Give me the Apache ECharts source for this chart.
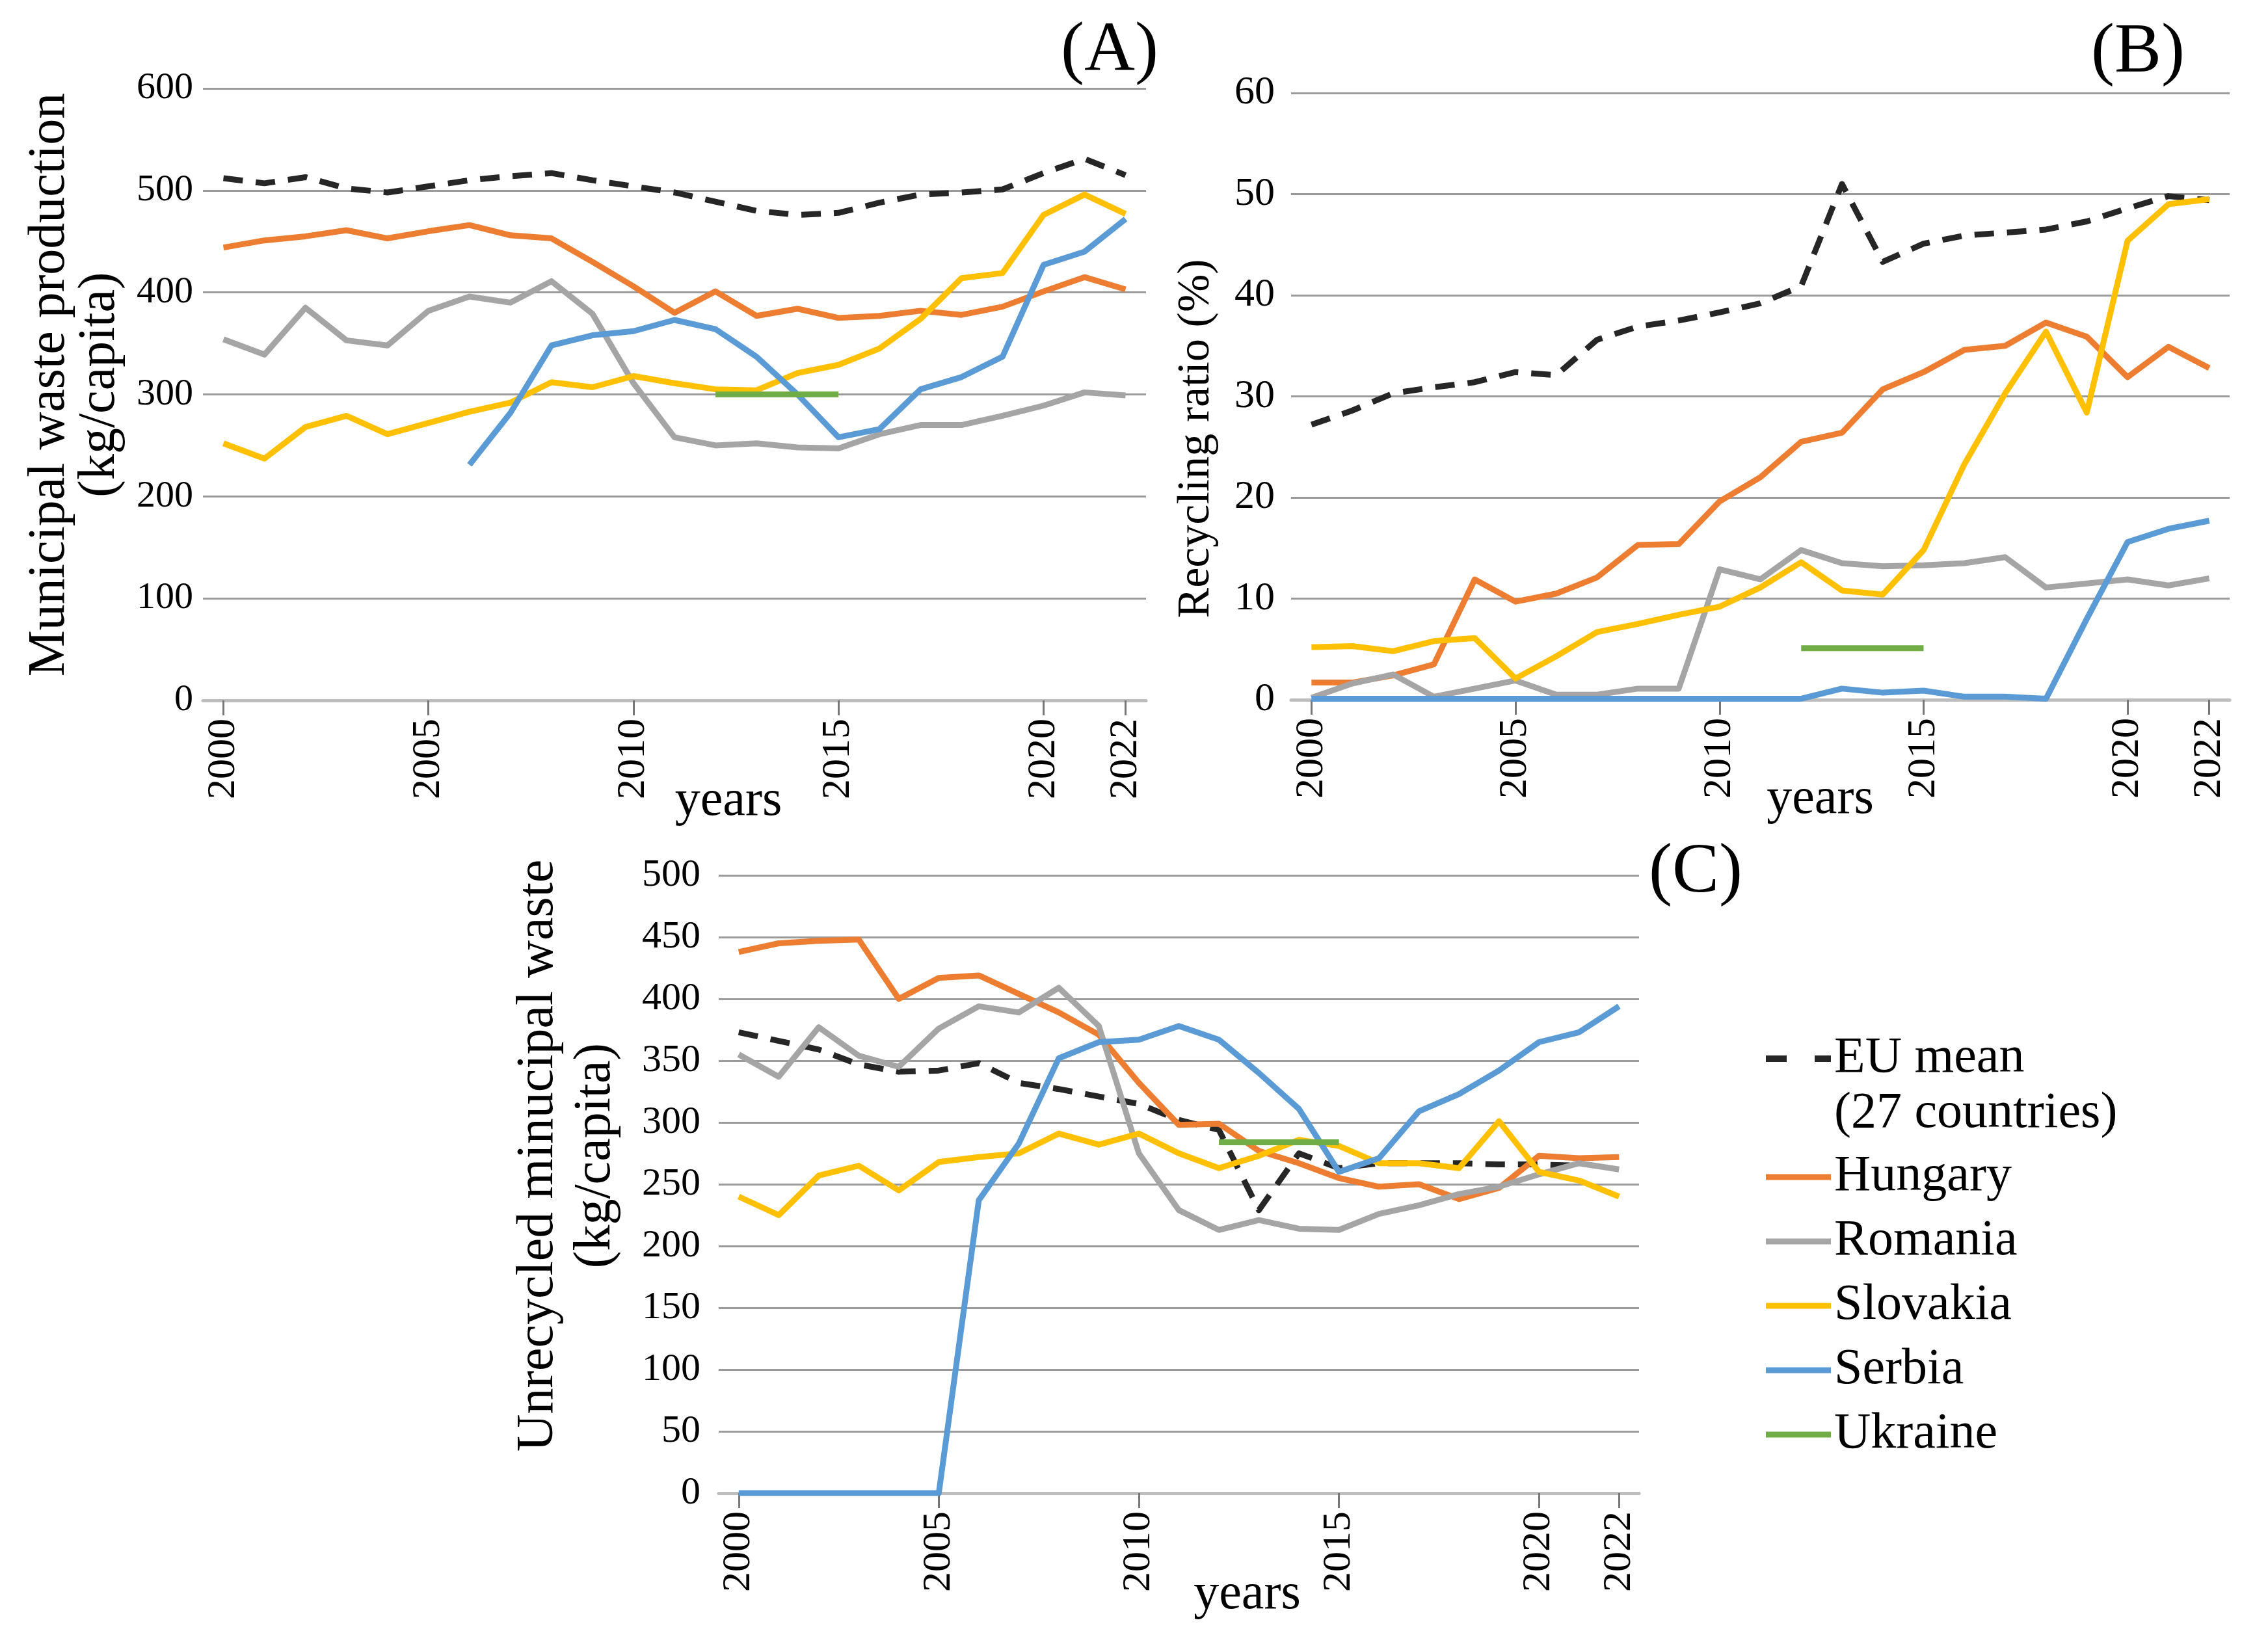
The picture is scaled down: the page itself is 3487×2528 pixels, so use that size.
<!DOCTYPE html>
<html>
<head>
<meta charset="utf-8">
<script src="https://cdn.jsdelivr.net/npm/echarts@6/dist/echarts.min.js"></script>
<style>
html,body{margin:0;padding:0;background:#fff;}
#chart{width:3487px;height:2528px;}
</style>
</head>
<body>
<div id="chart"></div>
<script>
// ---------- data ----------
const years = ['2000','2001','2002','2003','2004','2005','2006','2007','2008','2009','2010','2011',
               '2012','2013','2014','2015','2016','2017','2018','2019','2020','2021','2022'];
const seriesNames = ['EU mean', 'Hungary', 'Romania', 'Slovakia', 'Serbia', 'Ukraine'];
const euNote = '(27 countries)';
const panelLabels = ['(A)', '(B)', '(C)'];
const yTicksA = [0, 600, 100];
const yTicksB = [0, 60, 10];
const yTicksC = [0, 500, 50];

// (A) Municipal waste production (kg/capita)
const prodEU = [512, 507, 513, 502, 498, 504, 510, 514, 517, 510, 504, 498, 489, 480, 476, 478, 488, 496, 498, 501, 517, 531, 515];
const prodHU = [444, 451, 455, 461, 453, 460, 466, 456, 453, 430, 406, 380, 401, 377, 384, 375, 377, 382, 378, 386, 401, 415, 403];
const prodRO = [354, 339, 385, 353, 348, 382, 396, 390, 411, 379, 311, 258, 250, 252, 248, 247, 261, 270, 270, 279, 289, 302, 299];
const prodSK = [252, 237, 268, 279, 261, 272, 283, 292, 312, 307, 318, 311, 305, 304, 321, 329, 345, 374, 414, 419, 476, 496, 477];
const prodRS = [null, null, null, null, null, null, 231, 282, 348, 358, 362, 373, 364, 337, 300, 258, 266, 305, 317, 337, 427, 440, 472];
const prodUA = [null, null, null, null, null, null, null, null, null, null, null, null, 300, 300, 300, 300, null, null, null, null, null, null, null];

// (B) Recycling ratio (%)
const recEU = [27.2, 28.6, 30.3, 30.9, 31.4, 32.4, 32.1, 35.6, 36.9, 37.5, 38.3, 39.2, 40.9, 51.0, 43.3, 45.1, 45.9, 46.2, 46.5, 47.3, 48.6, 49.8, 49.4];
const recHU = [1.7, 1.7, 2.4, 3.5, 11.9, 9.7, 10.5, 12.1, 15.3, 15.4, 19.6, 22.0, 25.5, 26.4, 30.7, 32.4, 34.6, 35.0, 37.3, 35.9, 31.9, 34.9, 32.8];
const recRO = [0.2, 1.6, 2.5, 0.3, 1.1, 1.9, 0.5, 0.5, 1.1, 1.1, 12.9, 11.9, 14.8, 13.5, 13.2, 13.3, 13.5, 14.1, 11.1, 11.5, 11.9, 11.3, 12.0];
const recSK = [5.2, 5.3, 4.8, 5.8, 6.1, 2.1, 4.3, 6.7, 7.5, 8.4, 9.2, 11.1, 13.6, 10.8, 10.4, 14.8, 23.3, 30.3, 36.4, 28.4, 45.4, 49.0, 49.5];
const recRS = [0.1, 0.1, 0.1, 0.1, 0.1, 0.1, 0.1, 0.1, 0.1, 0.1, 0.1, 0.1, 0.1, 1.1, 0.7, 0.9, 0.3, 0.3, 0.1, 8.0, 15.6, 16.9, 17.7];
const recUA = [null, null, null, null, null, null, null, null, null, null, null, null, 5.1, 5.1, 5.1, 5.1, null, null, null, null, null, null, null];

// (C) Unrecycled municipal waste (kg/capita)
const unrecEU = [373, 366, 359, 347, 341, 342, 348, 332, 327, 321, 315, 302, 294, 229, 275, 263, 267, 267, 267, 266, 266, 265, null];
const unrecHU = [438, 445, 447, 448, 400, 417, 419, 404, 389, 371, 332, 298, 299, 277, 267, 255, 248, 250, 238, 247, 273, 271, 272];
const unrecRO = [355, 337, 377, 354, 345, 376, 394, 389, 409, 378, 275, 229, 213, 221, 214, 213, 226, 233, 242, 248, 258, 267, 262];
const unrecSK = [240, 225, 257, 265, 245, 268, 272, 275, 291, 282, 291, 275, 263, 273, 286, 281, 267, 267, 263, 301, 260, 253, 240];
const unrecRS = [0, 0, 0, 0, 0, 0, 237, 283, 352, 365, 367, 378, 367, 340, 311, 260, 271, 309, 323, 342, 365, 373, 394];
const unrecUA = [null, null, null, null, null, null, null, null, null, null, null, null, 284, 284, 284, 284, null, null, null, null, null, null, null];

// ---------- styling ----------
const FONT = '"Liberation Serif", "Times New Roman", serif';
const COLORS = {
  'EU mean': '#262626', 'Hungary': '#ED7D31', 'Romania': '#A5A5A5',
  'Slovakia': '#FFC000', 'Serbia': '#5B9BD5', 'Ukraine': '#70AD47'
};
const showYear = (i) => i % 5 === 0 || i === years.length - 1;

function xAxis(gridIndex, nameGap, shift) {
  return {
    type: 'category', gridIndex: gridIndex, data: years, boundaryGap: true,
    name: 'years', nameLocation: 'middle', nameGap: nameGap, nameMoveOverlap: false,
    nameTextStyle: { fontFamily: FONT, fontSize: 78, lineHeight: 78, color: '#000', padding: [0, 0, 0, shift * 2] },
    axisLine: { show: true, lineStyle: { color: '#bdbdbd', width: 5 } },
    axisTick: { show: true, alignWithLabel: true, interval: showYear, length: 23, lineStyle: { color: '#777', width: 3 } },
    axisLabel: { interval: showYear, rotate: 90, margin: 28, fontFamily: FONT, fontSize: 62, color: '#000' },
    splitLine: { show: false }
  };
}
function yAxis(gridIndex, ticks, name, nameGap, fontSize, lineHeight, pad, labelSize, labelMargin, labelPad) {
  return {
    type: 'value', gridIndex: gridIndex, min: ticks[0], max: ticks[1], interval: ticks[2],
    name: name, nameLocation: 'middle', nameRotate: 90, nameGap: nameGap, nameMoveOverlap: false,
    nameTextStyle: { fontFamily: FONT, fontSize: fontSize, lineHeight: lineHeight, color: '#000', padding: pad },
    axisLine: { show: false }, axisTick: { show: false },
    axisLabel: { margin: labelMargin, fontFamily: FONT, fontSize: labelSize, color: '#000', padding: labelPad },
    splitLine: { show: true, lineStyle: { color: '#9a9a9a', width: 3 } }
  };
}
function line(name, data, idx) {
  const dashed = name === 'EU mean';
  return {
    type: 'line', name: name, data: data, xAxisIndex: idx, yAxisIndex: idx,
    symbol: 'none', showSymbol: false, connectNulls: false, silent: true, animation: false,
    lineStyle: { color: COLORS[name], width: 9, type: dashed ? [30, 20] : 'solid', cap: 'butt', join: 'round' },
    itemStyle: { color: COLORS[name] }
  };
}

const panels = [
  [prodEU, prodHU, prodRO, prodSK, prodRS, prodUA],
  [recEU, recHU, recRO, recSK, recRS, recUA],
  [unrecEU, unrecHU, unrecRO, unrecSK, unrecRS, unrecUA]
];
const series = [];
panels.forEach((arrs, p) => arrs.forEach((d, k) => series.push(line(seriesNames[k], d, p))));

const legendText = { fontFamily: FONT, fontSize: 78, lineHeight: 88, color: '#000' };
const labelStyle = (t) => ({ text: t, font: '108px ' + FONT, fill: '#000', align: 'center', verticalAlign: 'middle', textAlign: 'center', textVerticalAlign: 'middle' });

const option = {
  backgroundColor: '#ffffff',
  animation: false,
  grid: [
    { left: 312, top: 136, width: 1450, height: 941 },
    { left: 1985, top: 143, width: 1443, height: 933 },
    { left: 1105, top: 1346, width: 1415, height: 950 }
  ],
  xAxis: [xAxis(0, 117, 83), xAxis(1, 115, 92), xAxis(2, 118, 105)],
  yAxis: [
    yAxis(0, yTicksA, 'Municipal waste production\n(kg/capita)', 120, 80, 77, [0, 0, 0, 30], 58, 15, [0, 0, 16, 0]),
    yAxis(1, yTicksB, 'Recycling ratio (%)', 109, 70, 72, [0, 130, 0, 0], 62, 25, 0),
    yAxis(2, yTicksC, 'Unrecycled minucipal waste\n(kg/capita)', 145, 80, 88, [0, 0, 0, 88], 60, 28, 0)
  ],
  legend: [
    {
      data: [{ name: 'EU mean', icon: 'path://M0,0H32V10H0Z M75,0H100V10H75Z' }],
      orient: 'vertical', left: 2715, top: 1628 - 44, padding: 0,
      itemWidth: 100, itemHeight: 10, selectedMode: false,
      textStyle: legendText
    },
    {
      data: seriesNames.slice(1), icon: 'rect', orient: 'vertical', left: 2715, top: 1766, padding: 0,
      itemWidth: 100, itemHeight: 9, itemGap: 11, selectedMode: false,
      textStyle: legendText
    }
  ],
  graphic: [
    { type: 'text', x: 1706, y: 80, style: labelStyle(panelLabels[0]) },
    { type: 'text', x: 3287, y: 82, style: labelStyle(panelLabels[1]) },
    { type: 'text', x: 2607, y: 1343, style: labelStyle(panelLabels[2]) },
    { type: 'text', x: 2820, y: 1713, style: { text: euNote, font: '78px ' + FONT, fill: '#000', align: 'left', verticalAlign: 'middle', textAlign: 'left', textVerticalAlign: 'middle' } }
  ],
  series: series
};

const chart = echarts.init(document.getElementById('chart'), null, { renderer: 'canvas' });
chart.setOption(option);
</script>
</body>
</html>
